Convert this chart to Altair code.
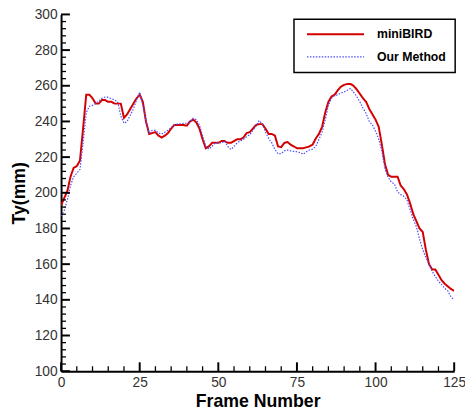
import altair as alt
import pandas as pd

frames = list(range(126))

minibird = [
    193, 197, 201, 209, 214, 215, 218, 236, 255, 255,
    253, 250, 250, 252, 252, 251, 251, 250, 250, 250,
    242, 244, 247, 250, 253, 255, 251, 240, 233, 233.5,
    234, 232, 231, 232, 233.5, 236, 238, 238, 238, 238,
    237.6, 240, 241, 239.5, 236, 230, 225, 226, 228, 228,
    228, 229, 229, 228, 228, 229, 230, 230, 231, 233.5,
    234, 236, 238, 238.5, 238.5, 236, 233, 233, 232, 226,
    225.6, 228, 228.5, 227, 226, 225, 225, 225, 225.5, 226,
    227, 230.5, 233, 237, 245, 251, 254, 255, 257.5, 259.5,
    260.5, 261, 261, 260, 258, 255.5, 253, 251, 247, 244,
    241, 237, 227, 216, 210, 209, 209, 209, 204, 202,
    199, 194, 188, 184, 180, 178, 168, 160, 157, 157,
    154, 151, 149, 147.5, 146, 145,
]

our_method = [
    187, 190, 196, 204, 209, 211, 213, 228, 245, 248.5,
    249, 250, 251.5, 253, 253.7, 253.5, 252.8, 252, 251, 243,
    239, 240, 243.5, 247, 252, 256.5, 249, 240, 233.5, 235,
    235, 233.5, 233, 234, 235, 236.5, 238, 238.5, 238.7, 239,
    239, 240, 241.8, 241, 238, 232, 226, 224.5, 226, 228,
    228, 228, 229, 226, 224.3, 226, 228, 229, 230, 231.5,
    232.5, 235, 237.5, 240.5, 238.5, 234, 230.5, 228, 224.3, 221.8,
    222, 223.5, 224, 223.5, 223.2, 223, 222.5, 221.6, 223, 224,
    224.4, 226, 230, 234, 241, 249, 253, 254.5, 255, 256,
    256.5, 257.5, 258.5, 256.5, 254, 251, 247.5, 244.5, 240, 238,
    234.5, 230, 223.4, 213.3, 208.7, 206, 205, 200.5, 199, 198,
    196, 190.5, 185, 181, 174, 168, 163.7, 160, 156, 153,
    150.5, 148.5, 146.5, 145, 141.5, 140,
]

series_names = ["miniBIRD", "Our Method"]
series_colors = ["#d40000", "#4a4aff"]

x_major = [0, 25, 50, 75, 100, 125]
x_minor = [5, 10, 15, 20, 30, 35, 40, 45, 55, 60, 65, 70,
           80, 85, 90, 95, 105, 110, 115, 120]
y_major = [100, 120, 140, 160, 180, 200, 220, 240, 260, 280, 300]
y_minor = [v for v in range(104, 300, 4) if v % 20 != 0]

df = pd.DataFrame({
    "Frame": frames * 2,
    "Ty": minibird + our_method,
    "Series": [series_names[0]] * len(frames) + [series_names[1]] * len(frames),
})

FONT = "Liberation Sans"

x_axis = alt.Axis(
    title="Frame Number", values=x_major, ticks=False, tickSize=0,
    domainColor="black", domainWidth=2, grid=False,
    labelFont=FONT, labelFontSize=14, labelColor="#333333", labelPadding=5,
    labelFlush=False, labelOverlap=False,
    titleFont=FONT, titleFontSize=18, titleFontWeight="bold", titleColor="black",
    titlePadding=3,
)
y_axis = alt.Axis(
    title="Ty(mm)", values=y_major, ticks=False, tickSize=0,
    domainColor="black", domainWidth=2, grid=False,
    labelFont=FONT, labelFontSize=14, labelColor="#333333", labelPadding=4,
    labelFlush=False, labelOverlap=False,
    titleFont=FONT, titleFontSize=18, titleFontWeight="bold", titleColor="black",
    titlePadding=6,
)

x_enc = alt.X("Frame:Q", scale=alt.Scale(domain=[0, 125], nice=False, zero=False), axis=x_axis)
y_enc = alt.Y("Ty:Q", scale=alt.Scale(domain=[100, 300], nice=False, zero=False), axis=y_axis)

legend = alt.Legend(
    orient="none", legendX=237, legendY=5, title=None,
    symbolType="M-0.4,0H11.2", symbolSize=100, symbolStrokeWidth=2,
    labelFont=FONT, labelFontSize=12.5, labelFontWeight="bold", labelColor="black",
    labelOffset=63, padding=9, strokeColor="black", fillColor="white",
    rowPadding=10,
)

lines = alt.Chart(df).mark_line(clip=True).encode(
    x=x_enc,
    y=y_enc,
    color=alt.Color("Series:N", scale=alt.Scale(domain=series_names, range=series_colors), legend=legend),
    strokeDash=alt.StrokeDash("Series:N", scale=alt.Scale(domain=series_names, range=[[1, 0], [1.5, 1.5]]), legend=legend),
    strokeWidth=alt.StrokeWidth("Series:N", scale=alt.Scale(domain=series_names, range=[2, 1.2]), legend=None),
)

y_maj = alt.Chart(pd.DataFrame({"Ty": y_major})).mark_rule(color="black", strokeWidth=2).encode(
    y=y_enc, x=alt.value(0), x2=alt.value(9)
)
y_min = alt.Chart(pd.DataFrame({"Ty": y_minor})).mark_rule(color="black", strokeWidth=1.3).encode(
    y=y_enc, x=alt.value(0), x2=alt.value(5)
)
x_maj = alt.Chart(pd.DataFrame({"Frame": x_major})).mark_rule(color="black", strokeWidth=2).encode(
    x=x_enc, y=alt.value(363), y2=alt.value(354)
)
x_min = alt.Chart(pd.DataFrame({"Frame": x_minor})).mark_rule(color="black", strokeWidth=1.3).encode(
    x=x_enc, y=alt.value(363), y2=alt.value(358)
)

chart = alt.layer(lines, y_maj, y_min, x_maj, x_min).properties(
    width=400, height=363,
    autosize=alt.AutoSizeParams(type="none"),
    padding={"left": 54, "top": 3, "right": 11, "bottom": 38},
).configure_view(stroke=None).configure_legend(strokeWidth=1.5)

chart.save("out.html", embed_options={"renderer": "svg", "actions": False})
